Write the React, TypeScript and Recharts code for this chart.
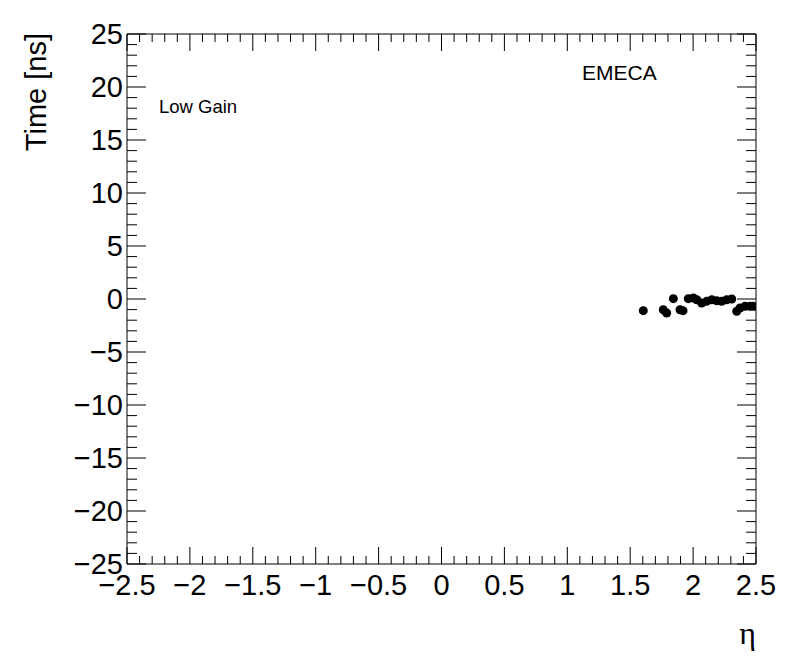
import { ComposedChart, Scatter, XAxis, YAxis, ReferenceArea } from 'recharts';

// eta / time pairs of the EMECA low gain channels
const etaValues = [1.604, 1.763, 1.79, 1.843, 1.896, 1.92, 1.962, 2.002, 2.029, 2.068, 2.108, 2.148, 2.188, 2.227, 2.267, 2.307, 2.347, 2.373, 2.413, 2.452, 2.479];
const timeValues = [-1.1, -1.01, -1.32, 0.03, -1.01, -1.1, 0.03, 0.09, -0.07, -0.38, -0.22, -0.07, -0.16, -0.22, -0.07, 0.0, -1.16, -0.85, -0.69, -0.69, -0.69];

const xMajorTicks = [-2.5, -2, -1.5, -1, -0.5, 0, 0.5, 1, 1.5, 2, 2.5];
const yMajorTicks = [-25, -20, -15, -10, -5, 0, 5, 10, 15, 20, 25];
const xAllTicks = Array.from({ length: 51 }, (_, i) => Math.round((-2.5 + i * 0.1) * 10) / 10);
const yAllTicks = Array.from({ length: 51 }, (_, i) => -25 + i);

const data = etaValues.map((eta, i) => ({ eta, time: timeValues[i] }));

const W = 788;
const H = 664;
const PLOT_LEFT = 119;
const PLOT_TOP = 26;
const PLOT_W = 629;
const PLOT_H = 530;
const FONT = '"Liberation Sans", Arial, Helvetica, sans-serif';

const fmt = (v: number) => {
  const s = String(v);
  return s.startsWith('-') ? '\u2212' + s.slice(1) : s;
};

const isMajor = (v: number, list: number[]) => list.some((m) => Math.abs(m - v) < 1e-6);

const XTick = (props: any) => {
  const { x, y, payload } = props;
  const v = payload.value;
  const major = isMajor(v, xMajorTicks);
  const len = major ? 17 : 8;
  return (
    <g>
      <line x1={x} y1={y} x2={x} y2={y - len} stroke="#000" strokeWidth={1} />
      <line x1={x} y1={y - PLOT_H} x2={x} y2={y - PLOT_H + len} stroke="#000" strokeWidth={1} />
      {major && (
        <text x={x} y={y + 31} textAnchor="middle" fontFamily={FONT} fontSize={29} fill="#000">
          {fmt(v)}
        </text>
      )}
    </g>
  );
};

const YTick = (props: any) => {
  const { x, y, payload } = props;
  const v = payload.value;
  const major = isMajor(v, yMajorTicks);
  const len = major ? 19 : 10;
  return (
    <g>
      <line x1={x} y1={y} x2={x + len} y2={y} stroke="#000" strokeWidth={1} />
      <line x1={x + PLOT_W} y1={y} x2={x + PLOT_W - len} y2={y} stroke="#000" strokeWidth={1} />
      {major && (
        <text x={x - 4} y={y + 10} textAnchor="end" fontFamily={FONT} fontSize={29} fill="#000">
          {fmt(v)}
        </text>
      )}
    </g>
  );
};

const Dot = (props: any) => <circle cx={props.cx} cy={props.cy} r={4.5} fill="#000" />;

export default function App() {
  return (
    <div style={{ position: 'relative', width: W, height: H, background: '#fff' }}>
      <ComposedChart
        width={W}
        height={H}
        data={data}
        margin={{ top: PLOT_TOP, right: W - PLOT_LEFT - PLOT_W, bottom: H - PLOT_TOP - PLOT_H - 50, left: PLOT_LEFT - 60 }}
      >
        <XAxis
          type="number"
          dataKey="eta"
          domain={[-2.5, 2.5]}
          ticks={xAllTicks}
          interval={0}
          allowDataOverflow
          height={50}
          tickSize={0}
          tickMargin={0}
          tickLine={false}
          axisLine={false}
          tick={<XTick />}
        />
        <YAxis
          type="number"
          dataKey="time"
          domain={[-25, 25]}
          ticks={yAllTicks}
          interval={0}
          allowDataOverflow
          width={60}
          tickSize={0}
          tickMargin={0}
          tickLine={false}
          axisLine={false}
          tick={<YTick />}
        />
        <ReferenceArea x1={-2.5} x2={2.5} y1={-25} y2={25} fill="none" stroke="#000" strokeWidth={1} ifOverflow="visible" />
        <Scatter data={data} dataKey="time" shape={<Dot />} isAnimationActive={false} />
      </ComposedChart>
      <svg width={W} height={H} style={{ position: 'absolute', left: 0, top: 0, pointerEvents: 'none' }}>
        <text transform="translate(38, 25) rotate(-90)" textAnchor="end" fontFamily={FONT} fontSize={29} fill="#000">
          Time [ns]
        </text>
        <text x={748} y={636} textAnchor="end" fontFamily='"Liberation Serif", "DejaVu Serif", serif' fontSize={32} fill="#000">
          η
        </text>
        <text x={574} y={72} fontFamily={FONT} fontSize={21} fill="#000">
          EMECA
        </text>
        <text x={151} y={105} fontFamily={FONT} fontSize={18.5} fill="#000">
          Low Gain
        </text>
      </svg>
    </div>
  );
}
